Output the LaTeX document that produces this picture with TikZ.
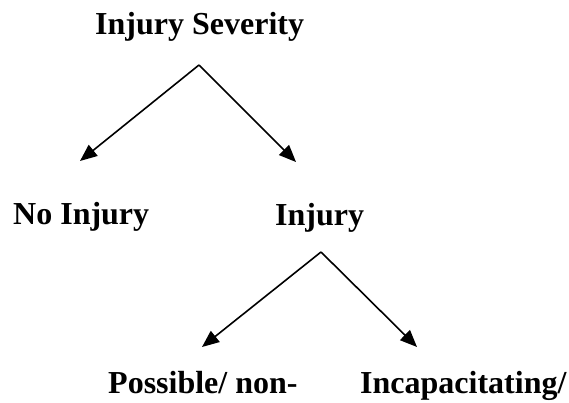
\documentclass[tikz,border=0pt]{standalone}
\usepackage{fontspec}
\setmainfont{Liberation Serif}
\usetikzlibrary{arrows.meta}
\begin{document}
\begin{tikzpicture}[x=1pt,y=1pt,
  label/.style={anchor=base west,inner sep=0pt,font=\fontsize{32}{38}\selectfont\bfseries},
  branch/.style={line width=1.6pt,-{Triangle[length=17pt,width=14pt]}}]
  \useasboundingbox (0,0) rectangle (569,402);
  % level 0
  \node[label] (sev) at (95,367) {Injury Severity};
  % level 1
  \node[label] (noinj) at (13,178) {No Injury};
  \node[label] (inj) at (275,177) {Injury};
  % level 2
  \node[label] (poss) at (108,9) {Possible/ non-};
  \node[label] (incap) at (360,9) {Incapacitating/};
  % branch points and arrow ends
  \coordinate (fork1) at (199,337);
  \coordinate (end1l) at (80,241);
  \coordinate (end1r) at (296,240);
  \coordinate (fork2) at (321,150);
  \coordinate (end2l) at (202,55);
  \coordinate (end2r) at (417,55);
  \draw[branch] (fork1) -- (end1l);
  \draw[branch] (fork1) -- (end1r);
  \draw[branch] (fork2) -- (end2l);
  \draw[branch] (fork2) -- (end2r);
\end{tikzpicture}
\end{document}
